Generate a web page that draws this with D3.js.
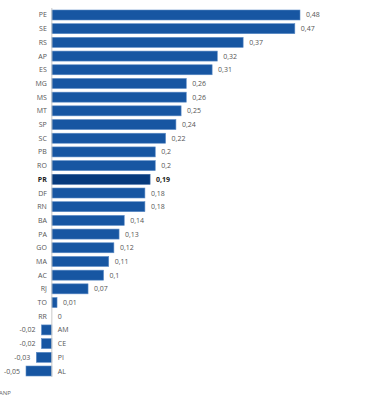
<!DOCTYPE html>
<html>
<head>
<meta charset="utf-8">
<script src="https://cdn.jsdelivr.net/npm/d3@7"></script>
<style>
  html, body { margin: 0; padding: 0; background: #fff; }
  svg { display: block; }
  text { font-family: "Open Sans", sans-serif; }
</style>
</head>
<body>
<svg id="chart" width="381" height="399"></svg>
<script>
const states = ["PE","SE","RS","AP","ES","MG","MS","MT","SP","SC","PB","RO","PR","DF","RN","BA","PA","GO","MA","AC","RJ","TO","RR","AM","CE","PI","AL"];
const values = [0.48,0.47,0.37,0.32,0.31,0.26,0.26,0.25,0.24,0.22,0.2,0.2,0.19,0.18,0.18,0.14,0.13,0.12,0.11,0.1,0.07,0.01,0,-0.02,-0.02,-0.03,-0.05];
const highlight = "PR";
const source = "ANP";

const data = states.map((s, i) => ({ s, v: values[i] }));
const svg = d3.select("#chart");

const x = d3.scaleLinear().domain([-0.05, 0.48]).range([26, 300]);
const y = d3.scaleBand().domain(states).range([10, 376]).paddingInner(0.27).paddingOuter(0);
const fmt = v => String(v).replace(".", ",");

svg.append("g").selectAll("rect").data(data).join("rect")
  .attr("x", d => Math.min(x(0), x(d.v)))
  .attr("y", d => y(d.s))
  .attr("width", d => Math.abs(x(d.v) - x(0)))
  .attr("height", y.bandwidth())
  .attr("fill", d => d.s === highlight ? "#073a7c" : "#1756a2")
  .attr("stroke", d => d.v === 0 ? "none" : (d.s === highlight ? "#3b66a0" : "#5d8cc6"))
  .attr("stroke-width", 0.6);

svg.append("line")
  .attr("x1", x(0)).attr("x2", x(0))
  .attr("y1", 8).attr("y2", 377)
  .attr("stroke", "#c8c8c8").attr("stroke-width", 1);

const g = svg.append("g").style("font-size", "7px");
// category labels
g.selectAll("text.cat").data(data).join("text").attr("class", "cat")
  .attr("x", d => d.v < 0 ? x(0) + 6 : x(0) - 5)
  .attr("y", d => y(d.s) + y.bandwidth() / 2 + 2.5)
  .attr("text-anchor", d => d.v < 0 ? "start" : "end")
  .attr("fill", d => d.s === highlight ? "#222" : "#555")
  .attr("font-weight", d => d.s === highlight ? "bold" : "normal")
  .text(d => d.s);
// value labels
g.selectAll("text.val").data(data).join("text").attr("class", "val")
  .attr("x", d => d.v < 0 ? x(d.v) - 6 : x(d.v) + 6)
  .attr("y", d => y(d.s) + y.bandwidth() / 2 + 2.5)
  .attr("text-anchor", d => d.v < 0 ? "end" : "start")
  .attr("fill", d => d.s === highlight ? "#222" : "#555")
  .attr("font-weight", d => d.s === highlight ? "bold" : "normal")
  .text(d => fmt(d.v));

svg.append("text")
  .attr("x", -1).attr("y", 395)
  .style("font-size", "6px").attr("fill", "#666")
  .text(source);
</script>
</body>
</html>
